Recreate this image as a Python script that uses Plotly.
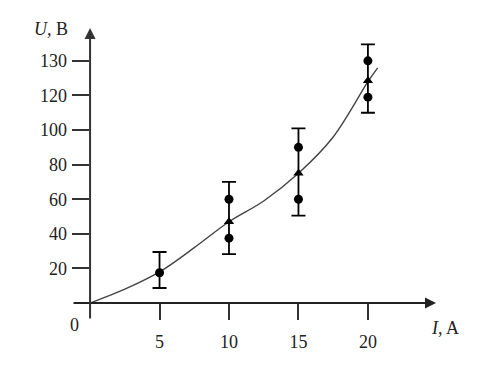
import plotly.graph_objects as go

# Data (axis units; top tick labelled "130" sits at position 140 as in the source)
I_circ = [5, 10, 10, 15, 15, 20, 20]
U_circ = [17.5, 60, 37.5, 90, 60, 140, 119]
I_tri = [10, 15, 20]
U_tri = [47, 75, 128.5]
I_err = [5, 10, 15, 20]
U_err_mid = [17.5, 47, 75, 128.5]
U_err_hi = [29.5, 70, 101, 149.5]
U_err_lo = [8.7, 28.3, 50.5, 110]
I_fit = [0, 2.5, 5, 7.5, 10, 12.5, 15, 17.5, 20, 20.7]
U_fit = [0, 8, 18, 32, 47, 59, 75, 96, 128, 136]
x_tickvals = [5, 10, 15, 20]
x_ticktext = ["5", "10", "15", "20"]
y_tickvals = [20, 40, 60, 80, 100, 120, 140]
y_ticktext = ["20", "40", "60", "80", "100", "120", "130"]

FONT = "Liberation Serif"
fig = go.Figure()

fig.add_trace(go.Scatter(x=I_fit, y=U_fit, mode="lines", line=dict(color="#444", width=1.4, shape="spline"),
                         hoverinfo="skip"))
fig.add_trace(go.Scatter(
    x=I_err, y=U_err_mid, mode="markers", marker=dict(size=1, opacity=0),
    error_y=dict(type="data", symmetric=False,
                 array=[h - m for h, m in zip(U_err_hi, U_err_mid)],
                 arrayminus=[m - l for m, l in zip(U_err_mid, U_err_lo)],
                 color="black", thickness=1.8, width=7)))
fig.add_trace(go.Scatter(x=I_circ, y=U_circ, mode="markers",
                         marker=dict(symbol="circle", size=9, color="black")))
fig.add_trace(go.Scatter(x=I_tri, y=U_tri, mode="markers",
                         marker=dict(symbol="triangle-up", size=9, color="black")))

# axis arrows
fig.add_annotation(x=24.9, y=0, ax=-1.3, ay=0, xref="x", yref="y", axref="x", ayref="y",
                   showarrow=True, arrowhead=2, arrowsize=1.1, arrowwidth=2, arrowcolor="#222", text="")
fig.add_annotation(x=0, y=159, ax=0, ay=-9.8, xref="x", yref="y", axref="x", ayref="y",
                   showarrow=True, arrowhead=2, arrowsize=1.1, arrowwidth=2, arrowcolor="#333", text="")

ann = dict(xref="paper", yref="paper", showarrow=False, xanchor="center", yanchor="middle")
fig.add_annotation(x=0.008, y=-0.017, text="0", font=dict(family=FONT, size=18, color="#222"), **ann)
fig.add_annotation(x=1.025, y=-0.027, text="<i>I</i>, A", font=dict(family=FONT, size=18, color="#222"), **ann)
fig.add_annotation(x=-0.058, y=0.997, text="<i>U</i>, B", font=dict(family=FONT, size=18, color="#222"), **ann)

fig.update_xaxes(range=[-1.3, 24.9], showgrid=False, zeroline=False, showline=False, automargin=False,
                 tickvals=x_tickvals, ticktext=x_ticktext, ticks="inside", ticklen=17,
                 tickwidth=2, tickcolor="#333", ticklabelstandoff=9,
                 tickfont=dict(family=FONT, size=18, color="#222"))
fig.update_yaxes(range=[-9.8, 159], showgrid=False, zeroline=False, showline=False, automargin=False,
                 tickvals=y_tickvals, ticktext=y_ticktext, ticks="inside", ticklen=17,
                 tickwidth=2, tickcolor="#333", ticklabelstandoff=4,
                 tickfont=dict(family=FONT, size=18, color="#222"))

fig.update_layout(width=474, height=361, margin=dict(l=64, r=46, t=20, b=49),
                  plot_bgcolor="white", paper_bgcolor="white", showlegend=False)
fig.write_html("out.html")
